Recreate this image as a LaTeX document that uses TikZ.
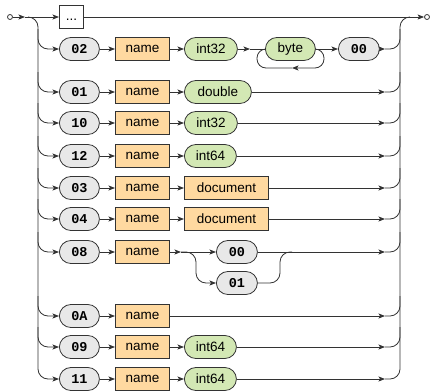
\documentclass[tikz,border=0pt]{standalone}
\usepackage{fontspec}
\setmainfont{Liberation Sans}
\setmonofont{Liberation Mono}
\usetikzlibrary{arrows.meta}
\definecolor{lc}{HTML}{333333}
\definecolor{tfill}{HTML}{E8E8E8}
\definecolor{nfill}{HTML}{FFD9A0}
\definecolor{gfill}{HTML}{D3E8B4}
\begin{document}
\begin{tikzpicture}[x=1pt,y=-1pt,
  conn/.style={draw=lc,line width=0.8pt},
  arr/.style={conn,-{Stealth[length=6.5pt,width=5pt,inset=1.5pt]}},
  base/.style={draw=lc,line width=0.8pt,minimum height=23pt,inner sep=0pt,
    font=\fontsize{13.5}{16}\selectfont,anchor=west},
  term/.style={base,fill=tfill,rounded corners=11.5pt,minimum width=40pt,
    font=\fontsize{13.5}{16}\selectfont\ttfamily\bfseries},
  namebox/.style={base,fill=nfill,minimum width=54pt},
  typeov/.style={base,fill=gfill,rounded corners=11.5pt},
  typebox/.style={base,fill=nfill},
  dot/.style={circle,draw=lc,fill=white,minimum size=5pt,inner sep=0pt,line width=0.8pt}
  ]
\useasboundingbox (0,0) rectangle (430,391);

% start / end
\node[dot] (st) at (10,17) {};
\node[dot] (en) at (427,17) {};
\node[base,fill=white,minimum width=24pt] (dots) at (59,17) {\vphantom{na}...};
\coordinate (a0) at (25,17);
\draw[arr] (st) -- (a0);
\draw[arr] (a0) -- (dots);
\draw[arr] (dots) -- (en);

% row 1: 02
\node[term] (t1) at (59,49) {02};
\node[namebox] (n1) at (115,49) {name};
\node[typeov,minimum width=53pt] (x1) at (184,49) {int32};
\node[typeov,minimum width=50pt] (b1) at (265,49) {byte};
\node[term,minimum width=41pt] (z1) at (338,49) {00};
\coordinate (m1) at (250,49);
\coordinate (lp) at (292,68);
\draw[arr] (t1) -- (n1);
\draw[arr] (n1) -- (x1);
\draw[arr] (x1) -- (m1);
\draw[conn] (m1) -- (b1);
\draw[arr] (b1) -- (z1);
\draw[arr,rounded corners=9pt] (b1.east) -- (324,49) -- (324,68) -- (lp);
\draw[conn,rounded corners=9pt] (lp) -- (257,68) -- (257,49) -- (b1.west);

% row 2: 01
\node[term] (t2) at (59,92) {01};
\node[namebox] (n2) at (115,92) {name};
\node[typeov,minimum width=67pt] (x2) at (184,92) {double};

% row 3: 10
\node[term] (t3) at (59,123) {10};
\node[namebox] (n3) at (115,123) {name};
\node[typeov,minimum width=53pt] (x3) at (184,123) {int32};

% row 4: 12
\node[term] (t4) at (59,156) {12};
\node[namebox] (n4) at (115,156) {name};
\node[typeov,minimum width=52pt] (x4) at (184,156) {int64};

% row 5: 03
\node[term] (t5) at (59,188) {03};
\node[namebox] (n5) at (115,188) {name};
\node[typebox,minimum width=84pt] (x5) at (184,188) {document};

% row 6: 04
\node[term] (t6) at (59,219) {04};
\node[namebox] (n6) at (115,219) {name};
\node[typebox,minimum width=84pt] (x6) at (184,219) {document};

% row 7: 08
\node[term] (t7) at (59,252) {08};
\node[namebox] (n7) at (115,252) {name};
\node[term,minimum width=41pt] (x7) at (216,252) {00};
\node[term,minimum width=41pt] (y7) at (216,283) {01};
\coordinate (s7) at (181,252);
\draw[arr] (n7) -- (s7);
\draw[arr] (s7) -- (x7);
\draw[arr,rounded corners=10pt] (s7) -- (196,252) -- (196,283) -- (y7.west);
\draw[conn,rounded corners=10pt] (y7.east) -- (280,283) -- (280,252) -- (292,252);

% row 8: 0A
\node[term] (t8) at (59,316) {0A};
\node[namebox] (n8) at (115,316) {name};

% row 9: 09
\node[term] (t9) at (59,347) {09};
\node[namebox] (n9) at (115,347) {name};
\node[typeov,minimum width=52pt] (x9) at (184,347) {int64};

% row 10: 11
\node[term] (t10) at (59,379) {11};
\node[namebox] (n10) at (115,379) {name};
\node[typeov,minimum width=52pt] (x10) at (184,379) {int64};

% inner connectors
\foreach \i in {2,3,4,5,6,9,10} {
  \draw[arr] (t\i) -- (n\i);
  \draw[arr] (n\i) -- (x\i);
}
\draw[arr] (t7) -- (n7);
\draw[arr] (t8) -- (n8);

% right ends
\foreach \src/\y in {z1/49,x2/92,x3/123,x4/156,x5/188,x6/219,x7/252,n8/316,x9/347,x10/379} {
  \coordinate (r\src) at (385,\y);
  \draw[arr] (\src.east) -- (r\src);
}
\foreach \src/\y in {z1/49,x2/92,x3/123,x4/156,x5/188,x6/219,x7/252,n8/316,x9/347} {
  \draw[conn,rounded corners=10pt] (r\src) -- (400,\y) -- (400,\y-20);
}
\draw[conn,rounded corners=10pt] (rx10) -- (400,379) -- (400,17) -- (410,17);

% left branches
\foreach \t/\y in {t1/49,t2/92,t3/123,t4/156,t5/188,t6/219,t7/252,t8/316,t9/347} {
  \draw[arr,rounded corners=10pt] (38,\y-20) -- (38,\y) -- (\t.west);
}
\draw[arr,rounded corners=10pt] (28,17) -- (38,17) -- (38,379) -- (t10.west);
\end{tikzpicture}
\end{document}
